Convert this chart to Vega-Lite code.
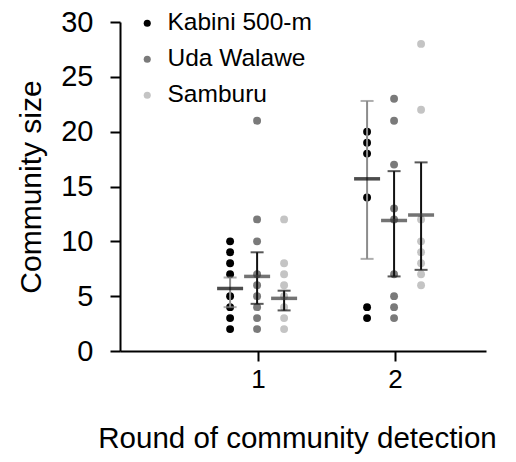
{
  "$schema": "https://vega.github.io/schema/vega-lite/v6.json",
  "width": 366,
  "height": 329,
  "autosize": "none",
  "padding": {"left": 120, "top": 22, "right": 30, "bottom": 111},
  "background": "white",
  "config": {
    "view": {"stroke": null},
    "font": "Liberation Sans",
    "axis": {
      "domainColor": "black", "domainWidth": 2, "tickColor": "black", "tickWidth": 2, "tickSize": 10,
      "labelColor": "black", "titleColor": "black", "labelFont": "Liberation Sans", "titleFont": "Liberation Sans",
      "titleFontWeight": "normal", "grid": false
    }
  },
  "datasets": {
    "points": [
      {"round": 1, "site": "Kabini 500-m", "size": 10},
      {"round": 1, "site": "Kabini 500-m", "size": 9},
      {"round": 1, "site": "Kabini 500-m", "size": 8},
      {"round": 1, "site": "Kabini 500-m", "size": 7},
      {"round": 1, "site": "Kabini 500-m", "size": 5},
      {"round": 1, "site": "Kabini 500-m", "size": 4},
      {"round": 1, "site": "Kabini 500-m", "size": 3},
      {"round": 1, "site": "Kabini 500-m", "size": 2},
      {"round": 1, "site": "Uda Walawe", "size": 21},
      {"round": 1, "site": "Uda Walawe", "size": 12},
      {"round": 1, "site": "Uda Walawe", "size": 10},
      {"round": 1, "site": "Uda Walawe", "size": 7},
      {"round": 1, "site": "Uda Walawe", "size": 6},
      {"round": 1, "site": "Uda Walawe", "size": 5},
      {"round": 1, "site": "Uda Walawe", "size": 4},
      {"round": 1, "site": "Uda Walawe", "size": 3},
      {"round": 1, "site": "Uda Walawe", "size": 2},
      {"round": 1, "site": "Samburu", "size": 12},
      {"round": 1, "site": "Samburu", "size": 8},
      {"round": 1, "site": "Samburu", "size": 7},
      {"round": 1, "site": "Samburu", "size": 6},
      {"round": 1, "site": "Samburu", "size": 5},
      {"round": 1, "site": "Samburu", "size": 4},
      {"round": 1, "site": "Samburu", "size": 3},
      {"round": 1, "site": "Samburu", "size": 2},
      {"round": 2, "site": "Kabini 500-m", "size": 20},
      {"round": 2, "site": "Kabini 500-m", "size": 19},
      {"round": 2, "site": "Kabini 500-m", "size": 18},
      {"round": 2, "site": "Kabini 500-m", "size": 14},
      {"round": 2, "site": "Kabini 500-m", "size": 4},
      {"round": 2, "site": "Kabini 500-m", "size": 3},
      {"round": 2, "site": "Uda Walawe", "size": 23},
      {"round": 2, "site": "Uda Walawe", "size": 21},
      {"round": 2, "site": "Uda Walawe", "size": 17},
      {"round": 2, "site": "Uda Walawe", "size": 13},
      {"round": 2, "site": "Uda Walawe", "size": 12},
      {"round": 2, "site": "Uda Walawe", "size": 7},
      {"round": 2, "site": "Uda Walawe", "size": 5},
      {"round": 2, "site": "Uda Walawe", "size": 4},
      {"round": 2, "site": "Uda Walawe", "size": 3},
      {"round": 2, "site": "Samburu", "size": 28},
      {"round": 2, "site": "Samburu", "size": 22},
      {"round": 2, "site": "Samburu", "size": 12},
      {"round": 2, "site": "Samburu", "size": 10},
      {"round": 2, "site": "Samburu", "size": 9},
      {"round": 2, "site": "Samburu", "size": 8},
      {"round": 2, "site": "Samburu", "size": 7},
      {"round": 2, "site": "Samburu", "size": 6}
    ],
    "summary": [
      {"round": 1, "site": "Kabini 500-m", "mean": 5.7, "lo": 4.0, "hi": 6.7},
      {"round": 1, "site": "Uda Walawe", "mean": 6.8, "lo": 4.3, "hi": 9.0},
      {"round": 1, "site": "Samburu", "mean": 4.8, "lo": 3.7, "hi": 5.5},
      {"round": 2, "site": "Kabini 500-m", "mean": 15.7, "lo": 8.4, "hi": 22.8},
      {"round": 2, "site": "Uda Walawe", "mean": 11.9, "lo": 6.8, "hi": 16.4},
      {"round": 2, "site": "Samburu", "mean": 12.4, "lo": 7.4, "hi": 17.2}
    ]
  },
  "encoding": {
    "x": {
      "field": "round", "type": "ordinal",
      "scale": {"type": "point", "domain": [1, 2], "padding": 0.836, "align": 0.603},
      "axis": {"title": "Round of community detection", "labelAngle": 0, "labelFontSize": 26, "titleFontSize": 29.5, "labelPadding": 5, "titlePadding": 32, "titleX": 177}
    },
    "xOffset": {
      "field": "site", "type": "nominal",
      "scale": {"type": "point", "domain": ["Kabini 500-m", "Uda Walawe", "Samburu"], "range": [-28, 26], "padding": 0}
    }
  },
  "layer": [
    {
      "data": {"name": "points"},
      "mark": {"type": "circle", "size": 62, "opacity": 1},
      "encoding": {
        "y": {
          "field": "size", "type": "quantitative",
          "scale": {"domain": [0, 30], "nice": false},
          "axis": {"title": "Community size", "values": [0, 5, 10, 15, 20, 25, 30], "labelFontSize": 29, "titleFontSize": 30, "labelPadding": 17, "titlePadding": 14}
        },
        "color": {
          "field": "site", "type": "nominal",
          "scale": {"domain": ["Kabini 500-m", "Uda Walawe", "Samburu"], "range": ["#000000", "#7a7a7a", "#c4c4c4"]},
          "legend": {"orient": "none", "legendX": 15, "legendY": -11, "title": null, "labelFontSize": 24.5, "labelColor": "black", "symbolType": "circle", "symbolSize": 50, "rowPadding": 11, "labelOffset": 8, "padding": 0, "symbolStrokeWidth": 0, "labelFont": "Liberation Sans"}
        }
      }
    },
    {
      "data": {"name": "summary"},
      "mark": {"type": "rule", "strokeWidth": 2},
      "encoding": {
        "y": {"field": "lo", "type": "quantitative"},
        "y2": {"field": "hi"},
        "color": {"field": "site", "type": "nominal", "scale": {"domain": ["Kabini 500-m", "Uda Walawe", "Samburu"], "range": ["#8c8c8c", "#111111", "#111111"]}, "legend": null}
      }
    },
    {
      "data": {"name": "summary"},
      "mark": {"type": "tick", "orient": "horizontal", "size": 13, "thickness": 2},
      "encoding": {
        "y": {"field": "lo", "type": "quantitative"},
        "color": {"field": "site", "type": "nominal", "scale": {"domain": ["Kabini 500-m", "Uda Walawe", "Samburu"], "range": ["#8c8c8c", "#111111", "#111111"]}, "legend": null}
      }
    },
    {
      "data": {"name": "summary"},
      "mark": {"type": "tick", "orient": "horizontal", "size": 13, "thickness": 2},
      "encoding": {
        "y": {"field": "hi", "type": "quantitative"},
        "color": {"field": "site", "type": "nominal", "scale": {"domain": ["Kabini 500-m", "Uda Walawe", "Samburu"], "range": ["#8c8c8c", "#111111", "#111111"]}, "legend": null}
      }
    },
    {
      "data": {"name": "summary"},
      "mark": {"type": "tick", "orient": "horizontal", "size": 26, "thickness": 3.5},
      "encoding": {
        "y": {"field": "mean", "type": "quantitative"},
        "color": {"field": "site", "type": "nominal", "scale": {"domain": ["Kabini 500-m", "Uda Walawe", "Samburu"], "range": ["#000000", "#383838", "#383838"]}, "legend": null}
      }
    }
  ],
  "resolve": {"scale": {"color": "independent"}}
}
